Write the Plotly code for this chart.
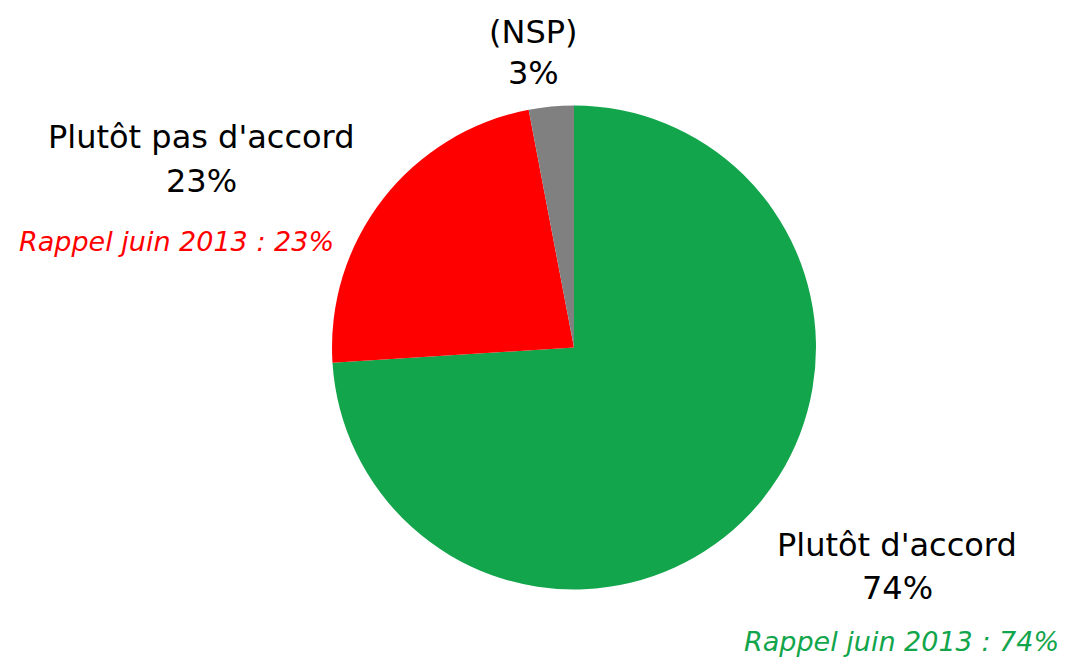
import plotly.graph_objects as go

labels = ["Plutôt d'accord", "Plutôt pas d'accord", "(NSP)"]
values = [74, 23, 3]
colors = ["#12A54B", "#FF0000", "#808080"]
rappel = [74, 23, None]

# page body has an 8px margin; work in reference pixels and shift
OFF = 8
W, H = 1070 - OFF, 663 - OFF
cx, cy, r = 574 - OFF, 347.5 - OFF, 242

fig = go.Figure()
fig.add_trace(go.Pie(
    labels=labels, values=values, sort=False, direction="clockwise", rotation=0,
    marker=dict(colors=colors, line=dict(width=0)),
    textinfo="none", hoverinfo="label+percent", showlegend=False,
    domain=dict(x=[(cx - r) / W, (cx + r) / W], y=[(H - cy - r) / H, (H - cy + r) / H]),
))

FONT = "DejaVu Sans, sans-serif"

def ann(x, y, text, size, color="black", italic=False):
    if italic:
        text = "<i>" + text + "</i>"
    fig.add_annotation(x=(x - OFF) / W, y=1 - (y - OFF) / H, xref="paper", yref="paper", text=text,
                       showarrow=False, xanchor="center", yanchor="middle",
                       font=dict(family=FONT, size=size, color=color))

ann(533, 32, labels[2], 32)
ann(533, 73, f"{values[2]}%", 32)
ann(201, 137, labels[1], 32)
ann(201, 181, f"{values[1]}%", 32)
ann(176, 241, f"Rappel juin 2013 : {rappel[1]}%", 27, colors[1], True)
ann(897, 545, labels[0], 32)
ann(897, 588, f"{values[0]}%", 32)
ann(901, 641, f"Rappel juin 2013 : {rappel[0]}%", 27, colors[0], True)

fig.update_layout(width=W, height=H, margin=dict(l=0, r=0, t=0, b=0),
                  paper_bgcolor="white", plot_bgcolor="white")
fig.write_html("out.html")
